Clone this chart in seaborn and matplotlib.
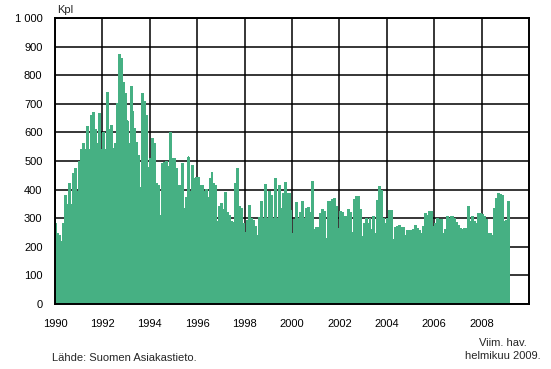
import numpy as np
import pandas as pd
import matplotlib
matplotlib.use("Agg")
import matplotlib.pyplot as plt
import seaborn as sns

# Monthly counts (Kpl), Jan 1990 .. Feb 2009
y1990 = [282, 245, 241, 220, 282, 380, 347, 421, 349, 456, 474, 392]
y1991 = [500, 540, 560, 540, 620, 540, 660, 670, 610, 560, 665, 540]
y1992 = [600, 540, 740, 610, 625, 545, 560, 700, 872, 860, 775, 735]
y1993 = [640, 560, 760, 672, 614, 565, 520, 408, 737, 708, 660, 478]
y1994 = [510, 580, 560, 420, 415, 310, 490, 495, 500, 480, 598, 510]
y1995 = [508, 473, 415, 415, 490, 334, 374, 514, 392, 485, 438, 444]
y1996 = [444, 415, 415, 392, 400, 374, 440, 460, 421, 413, 290, 340]
y1997 = [351, 330, 390, 320, 310, 287, 286, 420, 473, 340, 334, 281]
y1998 = [250, 293, 345, 300, 293, 270, 241, 302, 359, 299, 417, 299]
y1999 = [394, 378, 299, 438, 299, 415, 334, 386, 424, 386, 388, 327]
y2000 = [247, 296, 355, 300, 320, 360, 300, 334, 338, 320, 429, 262]
y2001 = [268, 268, 315, 332, 322, 230, 357, 358, 366, 370, 340, 265]
y2002 = [322, 320, 305, 305, 329, 320, 250, 365, 377, 375, 330, 235]
y2003 = [282, 300, 280, 300, 260, 305, 245, 363, 412, 398, 300, 281]
y2004 = [300, 328, 328, 225, 267, 270, 276, 266, 267, 240, 258, 256]
y2005 = [258, 262, 275, 265, 258, 245, 270, 316, 310, 322, 322, 270]
y2006 = [280, 300, 297, 295, 247, 260, 305, 300, 305, 305, 300, 285]
y2007 = [275, 265, 262, 264, 264, 340, 290, 305, 290, 281, 316, 316]
y2008 = [313, 305, 295, 247, 245, 241, 334, 369, 386, 383, 380, 287]
y2009 = [293, 360]

years = list(range(1990, 2010))
series = [y1990, y1991, y1992, y1993, y1994, y1995, y1996, y1997, y1998, y1999,
          y2000, y2001, y2002, y2003, y2004, y2005, y2006, y2007, y2008, y2009]

rows = []
for yr, vals in zip(years, series):
    for mi, v in enumerate(vals):
        rows.append({"month": f"{yr}-{mi + 1:02d}", "kpl": v})
df = pd.DataFrame(rows)

y_ticks = [0, 100, 200, 300, 400, 500, 600, 700, 800, 900, 1000]
y_labels = ["0", "100", "200", "300", "400", "500", "600", "700", "800", "900", "1 000"]
x_labels = [str(v) for v in range(1990, 2010, 2)]

sns.set_style("white")
plt.rcParams["font.family"] = ["Liberation Sans", "DejaVu Sans"]

fig = plt.figure(figsize=(5.51, 3.69), dpi=100)
ax = fig.add_axes([55 / 551, 1 - 304 / 369, (529 - 55) / 551, (304 - 18) / 369])

sns.barplot(data=df, x="month", y="kpl", color="#46B083", saturation=1,
            width=1.0, linewidth=0, ax=ax, errorbar=None)
for p in ax.patches:
    p.set_snap(False)
    p.set_antialiased(False)

# categorical positions: month k sits at k; year boundaries at -0.5 + 12*n
ax.set_xlim(-0.5, 20 * 12 - 0.5)
ax.set_ylim(0, 1000)
ax.set_yticks(y_ticks)
ax.set_yticklabels(y_labels)
ax.set_xticks([-0.5 + 24 * i for i in range(len(x_labels))])
ax.set_xticklabels(x_labels)
ax.set_xticks([-0.5 + 12 * i for i in range(21)], minor=True)
ax.set_xlabel("")
ax.set_ylabel("")

ax.set_axisbelow(True)
ax.grid(True, which="major", color="black", linewidth=1.1)
ax.tick_params(axis="y", which="both", length=0, labelsize=8, pad=9, colors="black")
ax.tick_params(axis="x", which="major", direction="in", length=3, width=1,
               labelsize=8, pad=11, colors="black")
ax.tick_params(axis="x", which="minor", direction="in", length=3, width=1, colors="black")
for s in ax.spines.values():
    s.set_visible(True)
    s.set_color("black")
    s.set_linewidth(1.4)

fig.text(57 / 551, 1 - 10 / 369, "Kpl", fontsize=8, ha="left", va="center")
fig.text(52 / 551, 1 - 358 / 369, "Lähde: Suomen Asiakastieto.", fontsize=8,
         ha="left", va="center")
fig.text(503 / 551, 1 - 343 / 369, "Viim. hav.", fontsize=8, ha="center", va="center")
fig.text(503 / 551, 1 - 356 / 369, "helmikuu 2009.", fontsize=8, ha="center", va="center")

fig.savefig("out.png", dpi=100, facecolor="white")
